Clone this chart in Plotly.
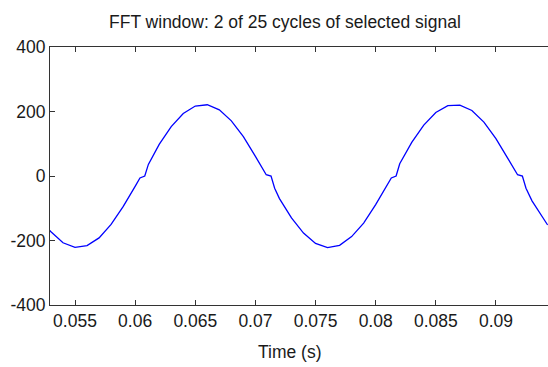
import plotly.graph_objects as go

# Signal samples (time in s, amplitude)
time_s = [0.0529, 0.0530, 0.0540, 0.0550, 0.0560, 0.0570, 0.0580, 0.0590, 0.0600,
          0.0604, 0.0608, 0.0611, 0.0620, 0.0630, 0.0640, 0.0650, 0.0660, 0.0670,
          0.0680, 0.0690, 0.0700, 0.0705, 0.0709, 0.0713, 0.0716, 0.0720, 0.0730,
          0.0740, 0.0750, 0.0760, 0.0770, 0.0780, 0.0790, 0.0800, 0.0810, 0.0813,
          0.0817, 0.0820, 0.0830, 0.0840, 0.0850, 0.0860, 0.0870, 0.0880, 0.0890,
          0.0900, 0.0910, 0.0918, 0.0922, 0.0925, 0.0930, 0.0940, 0.0943]
signal = [-169, -173, -207, -221, -216, -192, -150, -95, -32,
          -6, 0, 36, 98, 153, 194, 217, 221, 205,
          171, 122, 61, 28, 4, 0, -38, -70, -130,
          -177, -209, -222, -215, -188, -146, -89, -25, -6,
          0, 38, 104, 158, 197, 218, 220, 203, 167,
          116, 54, 4, 0, -38, -77, -135, -152]

x_ticks = [0.055, 0.06, 0.065, 0.07, 0.075, 0.08, 0.085, 0.09]
x_tick_text = ["0.055", "0.06", "0.065", "0.07", "0.075", "0.08", "0.085", "0.09"]
y_ticks = [-400, -200, 0, 200, 400]
y_tick_text = ["-400", "-200", "0", "200", "400"]

title_text = "FFT window: 2 of 25 cycles of selected signal"
x_label = "Time (s)"

FONT = "Liberation Sans, Arial, Helvetica, sans-serif"
FS = 17.5
TXT = "#1a1a1a"

fig = go.Figure()
fig.add_trace(go.Scatter(x=time_s, y=signal, mode="lines",
                         line=dict(color="#0000ff", width=1.3),
                         showlegend=False, hoverinfo="skip"))

fig.update_layout(
    width=548, height=367,
    margin=dict(l=50, r=0, t=47, b=62, pad=0),
    paper_bgcolor="white", plot_bgcolor="white",
    font=dict(family=FONT, size=FS, color=TXT),
    xaxis=dict(range=[0.05292, 0.09433], tickvals=x_ticks, ticktext=x_tick_text,
               ticks="inside", ticklen=5, tickcolor="#333", showline=True,
               linecolor="#333", linewidth=1, mirror="ticks", showgrid=False,
               zeroline=False, tickfont=dict(family=FONT, size=FS, color=TXT)),
    yaxis=dict(range=[-400, 400], tickvals=y_ticks, ticktext=y_tick_text,
               ticks="inside", ticklen=5, tickcolor="#333", showline=True,
               linecolor="#333", linewidth=1, mirror=False, showgrid=False,
               zeroline=False, tickfont=dict(family=FONT, size=FS, color=TXT)),
    annotations=[
        dict(text=title_text, x=0.472, y=1.097, xref="paper", yref="paper",
             xanchor="center", yanchor="middle", showarrow=False,
             font=dict(family=FONT, size=FS, color=TXT)),
        dict(text=x_label, x=0.482, y=-0.182, xref="paper", yref="paper",
             xanchor="center", yanchor="middle", showarrow=False,
             font=dict(family=FONT, size=FS, color=TXT)),
    ],
)

fig.write_html("out.html",
               config={"displayModeBar": False},
               post_script="document.body.style.margin='0px';"
                           "document.body.style.overflow='hidden';")
